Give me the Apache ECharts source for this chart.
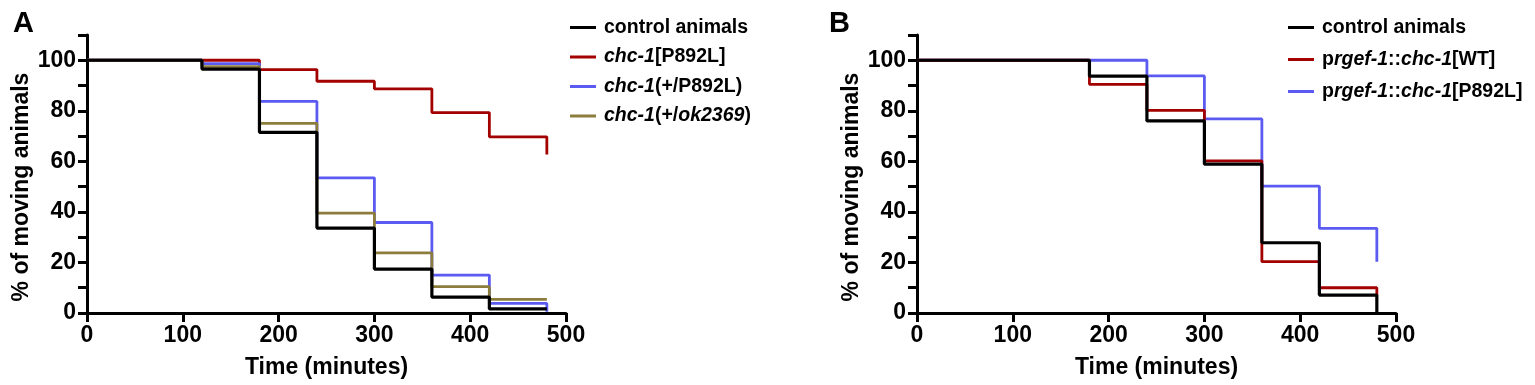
<!DOCTYPE html>
<html>
<head>
<meta charset="utf-8">
<script src="https://cdn.jsdelivr.net/npm/echarts@6/dist/echarts.min.js"></script>
<style>
  html, body { margin: 0; padding: 0; background: #fff; }
  #chart { width: 1535px; height: 385px; }
</style>
</head>
<body>
<div id="chart"></div>
<script>
// time points (minutes) where the curves step
const times = [0, 120, 180, 240, 300, 360, 420, 480];

// panel A
const ctrlA = [100, 96.5, 71.5, 33.6, 17.4, 6.3, 1.6, 1.6];
const p892lHomA = [100, 100, 96.3, 91.7, 88.7, 79.3, 69.7, 62.7];
const p892lHetA = [100, 98.7, 83.7, 53.5, 35.8, 15.0, 3.8, 0.5];
const ok2369HetA = [100, 97.5, 75.0, 39.5, 23.8, 10.4, 5.4, 5.4];

// panel B
const ctrlB = [100, 100, 93.7, 76.0, 58.9, 27.8, 7.1, 0];
const wtB = [100, 100, 90.5, 80.2, 60.2, 20.3, 10.0, 7.0];
const p892lB = [100, 100, 100, 93.8, 76.8, 50.2, 33.5, 20.3];

const namesA = ["control animals", "chc-1[P892L]", "chc-1(+/P892L)", "chc-1(+/ok2369)"];
const namesB = ["control animals", "prgef-1::chc-1[WT]", "prgef-1::chc-1[P892L]"];

const BLACK = "#000000";
const RED = "#a30000";
const BLUE = "#5b5bf2";
const OLIVE = "#8c7d3c";

const FONT = "Liberation Sans";
const AXIS_FS = 23;
const LEG_FS = 19.5;

const legendText = {
    "control animals": "control animals",
    "chc-1[P892L]": "{i|chc-1}[P892L]",
    "chc-1(+/P892L)": "{i|chc-1}(+/P892L)",
    "chc-1(+/ok2369)": "{i|chc-1}(+/{i|ok2369})",
    "prgef-1::chc-1[WT]": "p{i|rgef-1}::{i|chc-1}[WT]",
    "prgef-1::chc-1[P892L]": "p{i|rgef-1}::{i|chc-1}[P892L]"
};

const pairs = (vals) => times.map((t, i) => [t, vals[i]]);

function stepSeries(name, vals, color, axis) {
    return {
        name: name,
        type: "line",
        step: "end",
        xAxisIndex: axis,
        yAxisIndex: axis,
        data: pairs(vals),
        symbol: "none",
        lineStyle: { color: color, width: color === BLACK ? 3.2 : 2.8 },
        itemStyle: { color: color },
        animation: false
    };
}

function xAxisFor(grid) {
    return {
        type: "value",
        gridIndex: grid,
        min: 0,
        max: 500,
        interval: 100,
        name: "Time (minutes)",
        nameLocation: "middle",
        nameGap: 43,
        nameTextStyle: { fontFamily: FONT, fontWeight: "bold", fontSize: AXIS_FS, color: "#000" },
        axisLine: { onZero: false, lineStyle: { color: "#000", width: 3 } },
        axisTick: { length: 9, lineStyle: { color: "#000", width: 3 } },
        axisLabel: { fontFamily: FONT, fontWeight: "bold", fontSize: AXIS_FS, color: "#000", margin: 11 },
        splitLine: { show: false }
    };
}

function yAxisFor(grid) {
    return {
        type: "value",
        gridIndex: grid,
        min: 0,
        max: 110,
        interval: 10,
        name: "% of moving animals",
        nameLocation: "middle",
        nameRotate: 90,
        nameGap: 54,
        // centre the title on the 0-100 span rather than the full axis
        nameTextStyle: { fontFamily: FONT, fontWeight: "bold", fontSize: AXIS_FS, color: "#000", padding: [0, 26, 0, 0] },
        axisLine: { show: true, lineStyle: { color: "#000", width: 3 } },
        axisTick: { show: true, length: 9, lineStyle: { color: "#000", width: 3 } },
        axisLabel: {
            fontFamily: FONT, fontWeight: "bold", fontSize: AXIS_FS, color: "#000", margin: 11,
            formatter: (v) => (v % 20 === 0 && v <= 100 ? String(v) : "")
        },
        splitLine: { show: false }
    };
}

function legendFor(names, left, top, gap) {
    return {
        data: names,
        orient: "vertical",
        left: left,
        top: top,
        padding: 0,
        icon: "rect",
        itemWidth: 26,
        itemHeight: 3,
        itemGap: gap,
        selectedMode: false,
        formatter: (n) => legendText[n],
        textStyle: {
            fontFamily: FONT, fontWeight: "bold", fontSize: LEG_FS, color: "#000", lineHeight: 21,
            padding: [0, 0, 0, 3],
            rich: { i: { fontFamily: FONT, fontWeight: "bold", fontStyle: "italic", fontSize: LEG_FS, color: "#000", lineHeight: 21 } }
        }
    };
}

const chart = echarts.init(document.getElementById("chart"), null, { renderer: "canvas" });

const option = {
    backgroundColor: "#fff",
    animation: false,
    title: [
        { text: "A", left: 8, top: 4, textStyle: { fontFamily: FONT, fontWeight: "bold", fontSize: 29, color: "#000" } },
        { text: "B", left: 824, top: 4, textStyle: { fontFamily: FONT, fontWeight: "bold", fontSize: 29, color: "#000" } }
    ],
    grid: [
        { left: 87, top: 35, width: 479, height: 278 },
        { left: 917, top: 35, width: 479, height: 278 }
    ],
    xAxis: [xAxisFor(0), xAxisFor(1)],
    yAxis: [yAxisFor(0), yAxisFor(1)],
    legend: [
        legendFor(namesA, 570, 17, 8.5),
        legendFor(namesB, 1288, 17, 11)
    ],
    series: [
        stepSeries("chc-1[P892L]", p892lHomA, RED, 0),
        stepSeries("chc-1(+/P892L)", p892lHetA, BLUE, 0),
        stepSeries("chc-1(+/ok2369)", ok2369HetA, OLIVE, 0),
        stepSeries("control animals", ctrlA, BLACK, 0),
        stepSeries("prgef-1::chc-1[P892L]", p892lB, BLUE, 1),
        stepSeries("prgef-1::chc-1[WT]", wtB, RED, 1),
        stepSeries("control animals", ctrlB, BLACK, 1)
    ]
};

chart.setOption(option);
window.addEventListener("resize", () => chart.resize());
</script>
</body>
</html>
